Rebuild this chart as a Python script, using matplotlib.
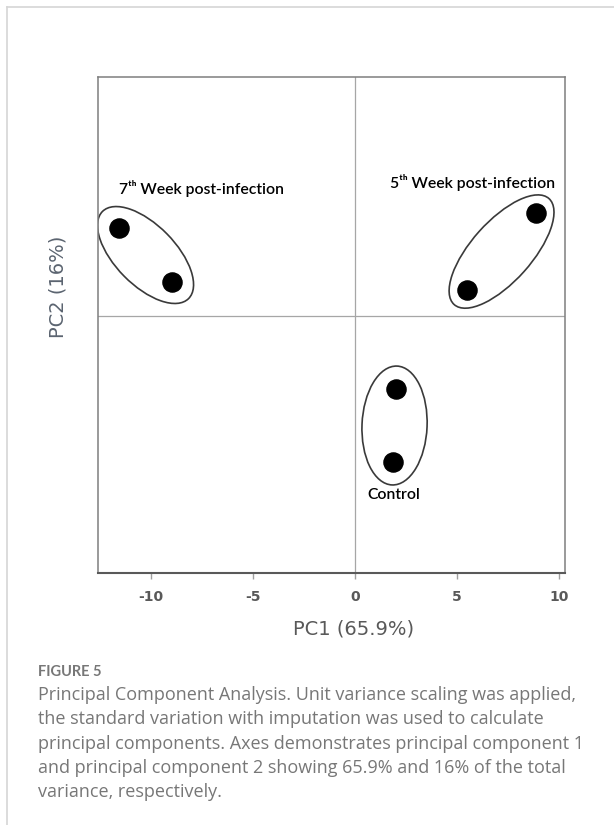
import numpy as np
import matplotlib.pyplot as plt
from matplotlib.patches import Ellipse
from matplotlib.lines import Line2D

# scores (PC1, PC2) per group
groups = ['7ᵗʰ Week post-infection', '5ᵗʰ Week post-infection', 'Control']
pc1 = [[-11.57, -8.97], [8.87, 5.49], [2.01, 1.86]]
pc2 = [[4.31, 1.67], [5.05, 1.27], [-3.58, -7.16]]
xticks = [-10, -5, 0, 5, 10]

caption_title = "FIGURE 5"
caption = [
    "Principal Component Analysis. Unit variance scaling was applied,",
    "the standard variation with imputation was used to calculate",
    "principal components. Axes demonstrates principal component 1",
    "and principal component 2 showing 65.9% and 16% of the total",
    "variance, respectively.",
]

# layout / style
ell_pad = [2.3, 1.9, 2.25]
ell_minor = [2.95, 2.95, 3.19]
label_xy = [(-11.57, 6.23, 'left'), (1.72, 6.57, 'left'), (1.91, -8.77, 'center')]
grey = '#595959'

fig = plt.figure(figsize=(6.14, 8.25), dpi=100)
ax = fig.add_axes([0.1596, 0.3055, 0.7606, 0.6012])

ax.set_xlim(-12.6, 10.29)
ax.set_ylim(-12.6, 11.72)
ax.axvline(0, color='#a6a6a6', lw=0.9, zorder=0)
ax.axhline(0, color='#a6a6a6', lw=0.9, zorder=0)

for i, name in enumerate(groups):
    xs = np.array(pc1[i])
    ys = np.array(pc2[i])
    ax.scatter(xs, ys, s=190, color='black', zorder=3)
    cx, cy = xs.mean(), ys.mean()
    dx, dy = xs[0] - xs[1], ys[0] - ys[1]
    ang = np.degrees(np.arctan2(dy, dx))
    dist = np.hypot(dx, dy)
    e = Ellipse((cx, cy), dist + ell_pad[i], ell_minor[i], angle=ang,
                fill=False, edgecolor='#3a3a3a', lw=1.2, zorder=2)
    ax.add_patch(e)
    tx, ty, ha = label_xy[i]
    ax.text(tx, ty, name, ha=ha, va='center', fontsize=11.3,
            family=['Lato', 'DejaVu Sans'], fontweight='semibold', color='black')

ax.set_xticks(xticks)
ax.set_xticklabels([str(t) for t in xticks], fontsize=10, fontweight='bold', color=grey)
ax.set_yticks([])
ax.tick_params(axis='x', direction='out', length=4.5, width=1, color='#a0a0a0', pad=8)
for side in ['left', 'top', 'right']:
    ax.spines[side].set_color('#7f7f7f')
    ax.spines[side].set_linewidth(1.1)
ax.spines['bottom'].set_color('#595959')
ax.spines['bottom'].set_linewidth(1.5)

ax.set_xlabel('PC1 (65.9%)', fontsize=14, color=grey)
ax.xaxis.set_label_coords(0.548, -0.093)
ax.set_ylabel('PC2 (16%)', fontsize=14, color='#5b6470')
ax.yaxis.set_label_coords(-0.066, 0.577)

# card border
fig.add_artist(Line2D([7 / 614, 1], [1 - 7 / 825, 1 - 7 / 825], color='#d6d6d6', lw=1.2))
fig.add_artist(Line2D([7 / 614, 7 / 614], [0, 1 - 7 / 825], color='#d6d6d6', lw=1.2))

fig.text(38 / 614, 1 - 672 / 825, caption_title, fontsize=10.5, fontweight='bold',
         color='#777777', va='center', family=['Lato', 'DejaVu Sans'])
for k, line in enumerate(caption):
    fig.text(38 / 614, 1 - (695 + 24.3 * k) / 825, line, fontsize=13, color='#777777',
             va='center', family=['Open Sans', 'DejaVu Sans'])

fig.savefig('out.png', dpi=100)
